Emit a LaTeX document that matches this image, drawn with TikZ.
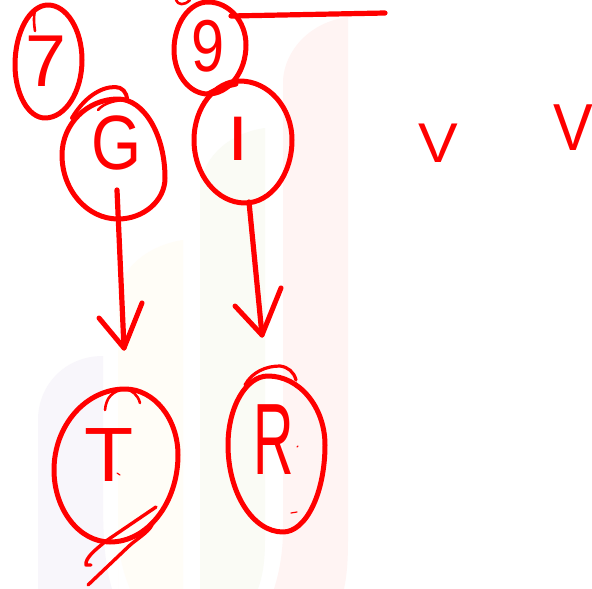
\documentclass[tikz,border=0pt]{standalone}
\usepackage{fontspec}
\setmainfont{Liberation Sans}
\usetikzlibrary{arrows.meta}
\definecolor{ink}{RGB}{255,0,0}
\definecolor{barA}{RGB}{248,246,251}
\definecolor{barB}{RGB}{255,253,247}
\definecolor{barC}{RGB}{250,251,245}
\definecolor{barD}{RGB}{255,244,243}
\tikzset{
  pen/.style={draw=ink,line width=5pt,line cap=round,line join=round},
  finepen/.style={draw=ink,line width=2.6pt,line cap=round,line join=round},
  speck/.style={draw=ink,line width=1.2pt,line cap=round},
  arrowline/.style={pen,line width=5.2pt},
  hand/.style={text=ink,inner sep=0pt,outer sep=0pt,font=\fontsize{70}{70}\selectfont,transform shape},
}
% closed egg through top, right, bottom and left extreme points
\newcommand\eggshape[8]{%
  \draw[pen] (#1,#2)
    .. controls ({#1+.55*(#3-#1)},#2) and (#3,{#4-.55*(#4-#2)}) .. (#3,#4)
    .. controls (#3,{#4+.55*(#6-#4)}) and ({#5+.55*(#3-#5)},#6) .. (#5,#6)
    .. controls ({#5-.55*(#5-#7)},#6) and (#7,{#8+.55*(#6-#8)}) .. (#7,#8)
    .. controls (#7,{#8-.55*(#8-#2)}) and ({#1-.55*(#1-#7)},#2) .. (#1,#2) -- cycle;}
\begin{document}
\begin{tikzpicture}[x=1pt,y=-1pt]
\useasboundingbox (0,0) rectangle (592,589);
\fill[white] (0,0) rectangle (592,589);
% pale background bars
\fill[barA] (38,589) -- (38,420) .. controls (38,385) and (65,356) .. (103,356) -- (103,500) .. controls (103,540) and (105,565) .. (112,589) -- cycle;
\fill[barB] (118,589) -- (118,290) .. controls (125,265) and (150,245) .. (183,240) -- (183,589) -- (130,589) .. controls (122,570) and (118,550) .. (118,530) -- cycle;
\fill[barC] (200,589) -- (200,185) .. controls (205,155) and (230,133) .. (265,128) -- (265,540) .. controls (265,560) and (263,575) .. (258,589) -- cycle;
\fill[barD] (283,340) -- (283,80) .. controls (285,50) and (310,22) .. (348,17) -- (348,540) .. controls (348,560) and (347,575) .. (344,589) -- (274,589) .. controls (280,570) and (283,550) .. (283,530) -- cycle;
% circles
\eggshape{48}{5}{82}{60}{45}{118}{15}{65}
\draw[finepen] (36,8) .. controls (33,15) and (34,24) .. (35,31);
\eggshape{208}{2}{246}{45}{208}{94}{174}{50}
\draw[finepen] (176,0) .. controls (178,5) and (184,6) .. (190,0);
\eggshape{240}{81}{292}{140}{245}{203}{194}{140}
\draw[pen] (208,94) .. controls (218,88) and (228,86) .. (236,84);
\eggshape{118}{99}{165}{178}{118}{219}{62}{155}
\draw[pen,line width=4pt] (72,118) .. controls (84,98) and (100,87) .. (115,87) .. controls (122,87) and (127,92) .. (127,100);
\draw[finepen] (98,110) .. controls (104,103) and (115,100) .. (127,100);
\eggshape{125}{389}{178}{455}{110}{542}{54}{470}
\draw[finepen] (105,410) .. controls (106,398) and (112,391) .. (125,389) .. controls (132,390) and (138,395) .. (140,403);
\eggshape{268}{376}{325}{445}{283}{532}{228}{445}
\draw[finepen,line width=3.2pt] (245,385) .. controls (252,372) and (266,366) .. (280,366) .. controls (288,367) and (294,372) .. (296,380);
% slash strokes
\draw[finepen,line width=3.4pt] (156,507) -- (106,541) .. controls (95,550) and (85,558) .. (86,565) -- (91,565);
\draw[finepen,line width=3.4pt] (88,585) -- (128,547) .. controls (135,540) and (148,533) .. (152,525);
% small specks
\draw[speck] (117,473) -- (120,475);
\draw[speck] (291,513) -- (297,512);
\draw[speck] (297,447) -- (298,446);
% letters
\node[hand,xscale=1.05,yscale=1.05] (seven) at (46,61) {7};
\node[hand,xscale=0.85,yscale=1.05] (nine) at (208,46) {9};
\node[hand,xscale=0.92,yscale=1.1] (gee) at (117,143) {G};
\node[hand,xscale=1.1,yscale=0.9] (eye) at (238,139) {I};
\node[hand,xscale=1.15,yscale=1.1] (tee) at (109,455) {T};
\node[hand,xscale=0.8,yscale=1.45] (are) at (274,440) {R};
\node[hand,xscale=0.85,yscale=0.8] (veeA) at (438,143) {V};
\node[hand,xscale=0.85,yscale=0.95] (veeB) at (573,128) {V};
% connector anchors
\coordinate (gFrom) at (117,190);
\coordinate (gTo) at (124,348);
\coordinate (gL) at (99,318);
\coordinate (gR) at (142,303);
\coordinate (iFrom) at (249,202);
\coordinate (iTo) at (262,335);
\coordinate (iL) at (235,306);
\coordinate (iR) at (281,288);
\coordinate (nFrom) at (231,16);
\coordinate (nTo) at (385,13);
\draw[arrowline] (gFrom) -- (gTo);
\draw[pen] (gL) -- (gTo) -- (gR);
\draw[arrowline] (iFrom) -- (iTo);
\draw[pen] (iL) -- (iTo) -- (iR);
\draw[arrowline] (nFrom) -- (nTo);
\end{tikzpicture}
\end{document}
